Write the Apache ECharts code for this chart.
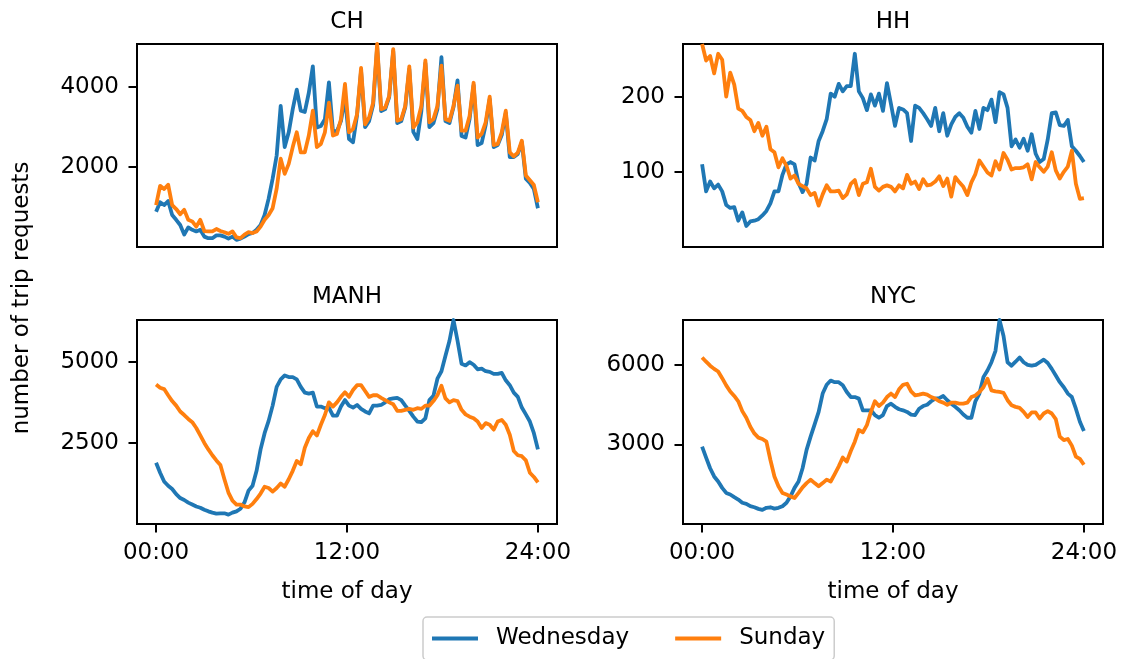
<!DOCTYPE html>
<html>
<head>
<meta charset="utf-8">
<title>Trip requests by time of day</title>
<script src="https://cdn.jsdelivr.net/npm/echarts@6/dist/echarts.min.js"></script>
<style>
  html, body { margin: 0; padding: 0; background: #fff; }
  #chart { width: 1124px; height: 659px; }
</style>
</head>
<body>
<div id="chart"></div>
<script>
// 96 samples spread evenly over the day (0h .. 24h)
const SAMPLES = 96;
const hourOfDay = Array.from({ length: SAMPLES }, (_, i) => i * 24 / (SAMPLES - 1));

const regions = ['CH', 'HH', 'MANH', 'NYC'];
const seriesNames = ['Wednesday', 'Sunday'];

const timeTicks = [0, 12, 24];
const timeTickLabels = ['00:00', '12:00', '24:00'];

const yTicksCH = [2000, 4000];
const yTicksHH = [100, 200];
const yTicksMANH = [2500, 5000];
const yTicksNYC = [3000, 6000];

// trip requests per time slot
const chWednesday = [
  880, 1120, 1050, 1150, 800, 680, 550, 310, 490, 430, 390, 430, 260, 220, 220, 290,
  290, 260, 210, 260, 180, 210, 260, 320, 350, 430, 550, 800, 1210, 1710, 2290, 3530,
  2500, 2870, 3450, 3940, 3410, 3380, 3860, 4520, 2990, 3030, 3200, 4120, 2900, 2900, 3150, 3750,
  2700, 2620, 3300, 4400, 3000, 3150, 3550, 5000, 3400, 3450, 3750, 4900, 3100, 3150, 3500, 4450,
  2880, 2700, 3400, 4600, 3000, 3100, 3450, 4750, 3150, 3100, 3500, 4170, 2780, 2740, 3200, 4050,
  2550, 2600, 3050, 3700, 2500, 2550, 2800, 3350, 2250, 2250, 2330, 2620, 1710, 1600, 1450, 970
];
const chSunday = [
  1050, 1530, 1450, 1560, 1050, 950, 820, 930, 680, 640, 510, 680, 400, 390, 390, 450,
  400, 370, 330, 390, 240, 220, 310, 370, 350, 390, 510, 680, 800, 970, 1460, 2210,
  1830, 2080, 2500, 2870, 2370, 2370, 2790, 3410, 2500, 2580, 2870, 3610, 2790, 2830, 3200, 4080,
  2870, 2950, 3320, 4480, 3070, 3240, 3610, 5080, 3450, 3490, 3780, 4950, 3160, 3200, 3530, 4520,
  2990, 3120, 3530, 4670, 3120, 3200, 3530, 4540, 3200, 3160, 3530, 4040, 2910, 2910, 3280, 4110,
  2740, 2830, 3120, 3760, 2550, 2580, 2870, 3410, 2370, 2270, 2360, 2660, 1790, 1670, 1550, 1120
];

const hhWednesday = [
  110, 74, 87, 78, 83, 74, 56, 52, 53, 35, 46, 28, 34, 35, 37, 42,
  48, 58, 74, 74, 96, 110, 113, 110, 85, 73, 84, 119, 115, 141, 154, 170,
  204, 200, 217, 207, 214, 214, 257, 207, 198, 182, 203, 188, 204, 181, 218, 190,
  161, 185, 183, 178, 141, 188, 185, 178, 170, 161, 185, 154, 178, 148, 163, 173,
  178, 172, 160, 152, 181, 157, 185, 182, 196, 166, 206, 203, 185, 134, 143, 132,
  144, 128, 150, 124, 113, 117, 143, 178, 179, 162, 161, 169, 134, 128, 121, 113
];
const hhSunday = [
  270, 248, 254, 231, 257, 249, 200, 232, 216, 184, 181, 173, 169, 154, 165, 148,
  160, 130, 126, 106, 118, 108, 91, 95, 84, 81, 78, 69, 72, 55, 70, 82,
  74, 74, 75, 65, 70, 84, 89, 69, 84, 86, 104, 80, 75, 80, 82, 80,
  74, 82, 78, 96, 84, 87, 77, 90, 82, 83, 87, 94, 81, 91, 67, 93,
  86, 80, 69, 86, 97, 115, 107, 99, 95, 114, 103, 125, 116, 103, 105, 105,
  106, 110, 90, 113, 106, 100, 107, 126, 102, 91, 100, 107, 128, 84, 64, 65
];

const manhWednesday = [
  1890, 1580, 1310, 1180, 1080, 920, 800, 740, 660, 600, 540, 500, 440, 390, 350, 320,
  330, 330, 290, 350, 390, 470, 670, 1030, 1180, 1640, 2300, 2800, 3180, 3650, 4230, 4460,
  4580, 4530, 4530, 4460, 4230, 4050, 4020, 4050, 3620, 3620, 3570, 3590, 3340, 3340, 3620, 3820,
  3650, 3590, 3670, 3550, 3470, 3410, 3650, 3650, 3670, 3750, 3850, 3870, 3890, 3820, 3650, 3490,
  3310, 3160, 3140, 3260, 3820, 3950, 4480, 4710, 5190, 5650, 6290, 5650, 4940, 4890, 4990, 4910,
  4770, 4790, 4710, 4690, 4630, 4630, 4660, 4430, 4280, 4050, 3920, 3590, 3380, 3160, 2800, 2300
];
const manhSunday = [
  4300, 4200, 4160, 3970, 3790, 3650, 3470, 3360, 3240, 3140, 2960, 2730, 2500, 2300, 2120, 1960,
  1820, 1380, 970, 720, 600, 600, 540, 520, 620, 770, 940, 1150, 1110, 1000, 1110, 1250,
  1150, 1380, 1640, 1940, 1840, 2350, 2650, 2860, 2730, 3060, 3360, 3750, 3620, 3750, 3920, 4060,
  3920, 4130, 4280, 4280, 4100, 3920, 3970, 3970, 3890, 3820, 3750, 3690, 3490, 3490, 3520, 3550,
  3520, 3570, 3550, 3650, 3650, 3790, 3970, 4260, 3870, 3750, 3820, 3790, 3520, 3380, 3310, 3260,
  3160, 2960, 3110, 3060, 2910, 3160, 3210, 3060, 2750, 2250, 2120, 2090, 1960, 1580, 1450, 1280
];

const nycWednesday = [
  2910, 2500, 2100, 1790, 1600, 1360, 1170, 1110, 1010, 920, 800, 760, 670, 630, 570, 530,
  610, 630, 580, 610, 670, 800, 1040, 1360, 1600, 2100, 2790, 3290, 3750, 4220, 4910, 5240,
  5400, 5340, 5340, 5220, 4970, 4780, 4780, 4720, 4280, 4280, 4280, 4100, 4000, 4100, 4440, 4530,
  4410, 4320, 4280, 4220, 4120, 4100, 4340, 4440, 4490, 4620, 4720, 4740, 4820, 4660, 4530, 4410,
  4280, 4120, 4000, 4000, 4620, 4910, 5530, 5780, 6090, 6520, 7680, 7080, 6090, 5960, 6110, 6270,
  6090, 5990, 5960, 5990, 6090, 6190, 6060, 5840, 5590, 5340, 5150, 4910, 4780, 4340, 3850, 3500
];
const nycSunday = [
  6270, 6110, 5960, 5840, 5740, 5490, 5220, 4990, 4820, 4620, 4250, 4000, 3660, 3410, 3250, 3200,
  3100, 2410, 1790, 1420, 1170, 1110, 1040, 980, 1170, 1380, 1540, 1670, 1540, 1420, 1540, 1670,
  1600, 1880, 2170, 2500, 2350, 2750, 3100, 3540, 3450, 3720, 4220, 4620, 4440, 4570, 4780, 4910,
  4780, 5070, 5240, 5280, 4990, 4840, 4870, 4910, 4870, 4780, 4720, 4620, 4570, 4490, 4570, 4570,
  4530, 4530, 4570, 4780, 4840, 4970, 5150, 5470, 5030, 4990, 4970, 4940, 4660, 4470, 4410, 4370,
  4220, 4030, 4200, 4200, 3970, 4160, 4250, 4160, 3950, 3290, 3160, 3200, 2950, 2540, 2450, 2230
];

const panelData = [
  [chWednesday, chSunday],
  [hhWednesday, hhSunday],
  [manhWednesday, manhSunday],
  [nycWednesday, nycSunday]
];
const panelYTicks = [yTicksCH, yTicksHH, yTicksMANH, yTicksNYC];

const COLORS = ['#1f77b4', '#ff7f0e'];
const FONT = 'DejaVu Sans';
const FS = 23;

// 2 x 2 panel layout
const panelBoxes = [
  { left: 137, top: 44, width: 420, height: 203 },
  { left: 683, top: 44, width: 420, height: 203 },
  { left: 137, top: 320, width: 420, height: 204 },
  { left: 683, top: 320, width: 420, height: 204 }
];

const tickStyle = { color: '#000', width: 2 };

const grid = panelBoxes.map(b => ({
  left: b.left, top: b.top, width: b.width, height: b.height,
  show: true, borderColor: '#000', borderWidth: 2, backgroundColor: 'transparent',
  containLabel: false
}));

// the time axis is shared: only the bottom row carries ticks and labels
const xAxis = panelBoxes.map((b, k) => {
  const bottomRow = k >= 2;
  return {
    type: 'value', gridIndex: k, min: -1.2, max: 25.2,
    axisLine: { show: false, onZero: false },
    splitLine: { show: false },
    axisTick: { show: bottomRow, customValues: timeTicks, length: 8.5, lineStyle: tickStyle },
    axisLabel: {
      show: bottomRow, customValues: timeTicks, margin: 18,
      color: '#000', fontFamily: FONT, fontSize: FS,
      formatter: v => timeTickLabels[timeTicks.indexOf(v)] || ''
    },
    name: bottomRow ? 'time of day' : '',
    nameLocation: 'middle', nameGap: 57,
    nameTextStyle: { color: '#000', fontFamily: FONT, fontSize: FS }
  };
});

const yAxis = panelBoxes.map((b, k) => ({
  type: 'value', gridIndex: k, min: 0, max: 'dataMax',
  axisLine: { show: false, onZero: false },
  splitLine: { show: false },
  axisTick: { show: true, customValues: panelYTicks[k], length: 8.5, lineStyle: tickStyle },
  axisLabel: {
    customValues: panelYTicks[k], margin: 18,
    color: '#000', fontFamily: FONT, fontSize: FS,
    formatter: v => String(v)
  }
}));

const series = [];
panelData.forEach((pair, k) => {
  pair.forEach((values, s) => {
    series.push({
      type: 'line', name: seriesNames[s],
      xAxisIndex: k, yAxisIndex: k,
      data: values.map((v, i) => [hourOfDay[i], v]),
      symbol: 'none', showSymbol: false, smooth: false,
      lineStyle: { color: COLORS[s], width: 3.8, join: 'round' },
      itemStyle: { color: COLORS[s] },
      emphasis: { disabled: true },
      z: 2 + s
    });
  });
});

// panel titles and the shared y label
const titleCentres = [[347, 22], [893, 22], [347, 297], [893, 297]];
const graphic = regions.map((r, k) => ({
  type: 'text', x: titleCentres[k][0], y: titleCentres[k][1],
  style: { text: r, fill: '#000', font: `${FS}px "${FONT}"`, align: 'center', verticalAlign: 'middle' }
}));
graphic.push({
  type: 'text', x: 22, y: 298, rotation: Math.PI / 2,
  style: { text: 'number of trip requests', fill: '#000', font: `${FS}px "${FONT}"`, align: 'center', verticalAlign: 'middle' }
});

const chart = echarts.init(document.getElementById('chart'), null, { renderer: 'canvas' });
chart.setOption({
  animation: false,
  backgroundColor: '#fff',
  grid, xAxis, yAxis, series, graphic,
  legend: {
    data: seriesNames.map(n => ({ name: n, icon: 'rect' })),
    left: 423, top: 617,
    orient: 'horizontal',
    itemWidth: 46, itemHeight: 3.8, itemGap: 46,
    padding: [10, 9, 10, 9],
    borderColor: '#cccccc', borderWidth: 1.5, borderRadius: 4,
    backgroundColor: 'rgba(255,255,255,0.8)',
    selectedMode: false,
    textStyle: { color: '#000', fontFamily: FONT, fontSize: FS, padding: [0, 0, 0, 13] }
  }
});
</script>
</body>
</html>
